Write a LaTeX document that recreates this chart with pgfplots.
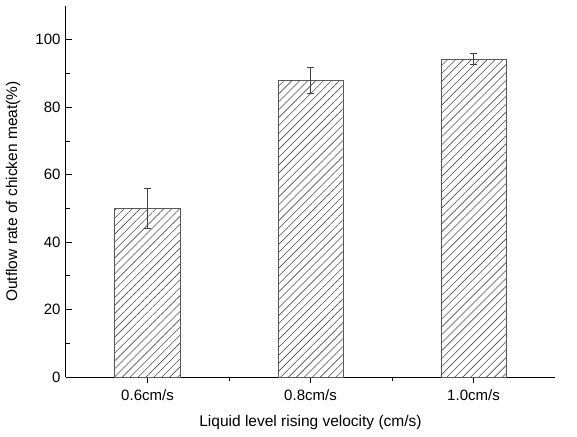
\documentclass[border=0pt]{standalone}
\usepackage{pgfplots}
\pgfplotsset{compat=1.18}
\usepackage{fontspec}
\setmainfont{Liberation Sans}
\usetikzlibrary{patterns.meta}
\begin{document}
\begin{tikzpicture}
\useasboundingbox (-66pt,-59pt) rectangle (511pt,377pt);
\begin{axis}[
  scale only axis,
  width=489pt, height=371pt,
  at={(0pt,0pt)}, anchor=south west,
  xmin=-0.5, xmax=2.5,
  ymin=0, ymax=110,
  axis x line=bottom, axis y line=left,
  axis line style={-, line width=1pt, black},
  xtick={0,1,2},
  xticklabels={0.6cm/s,0.8cm/s,1.0cm/s},
  minor xtick={0.5,1.5},
  ytick={0,20,40,60,80,100},
  minor ytick={10,30,50,70,90},
  tick align=inside,
  major tick length=6pt,
  minor tick length=4pt,
  tick style={line width=0.8pt, black},
  tick label style={font=\fontsize{15}{17}\selectfont},
  /pgf/number format/assume math mode=true,
  xticklabel style={yshift=-3pt},
  yticklabel style={xshift=-2pt},
  label style={font=\fontsize{15.5}{18}\selectfont},
  xlabel={Liquid level rising velocity (cm/s)},
  ylabel={Outflow rate of chicken meat(\%)},
  xlabel style={at={(axis description cs:0.5,0)}, anchor=center, yshift=-45pt},
  ylabel style={at={(axis description cs:0,0.5)}, anchor=center, yshift=53pt},
  ybar, bar width=0.4,
  clip=false,
]
\addplot[
  draw=black!65, line width=0.8pt,
  pattern={Lines[angle=45, distance=5.6pt, line width=0.6pt]},
  pattern color=black!70,
  error bars/.cd, y dir=both, y explicit,
  error bar style={black!75, line width=0.8pt},
  error mark options={rotate=90, mark size=3.5pt, black!75, line width=0.8pt},
] coordinates {
  (0,50) +- (0,6)
  (1,88) +- (0,3.9)
  (2,94.2) +- (0,1.6)
};
\end{axis}
\end{tikzpicture}
\end{document}
